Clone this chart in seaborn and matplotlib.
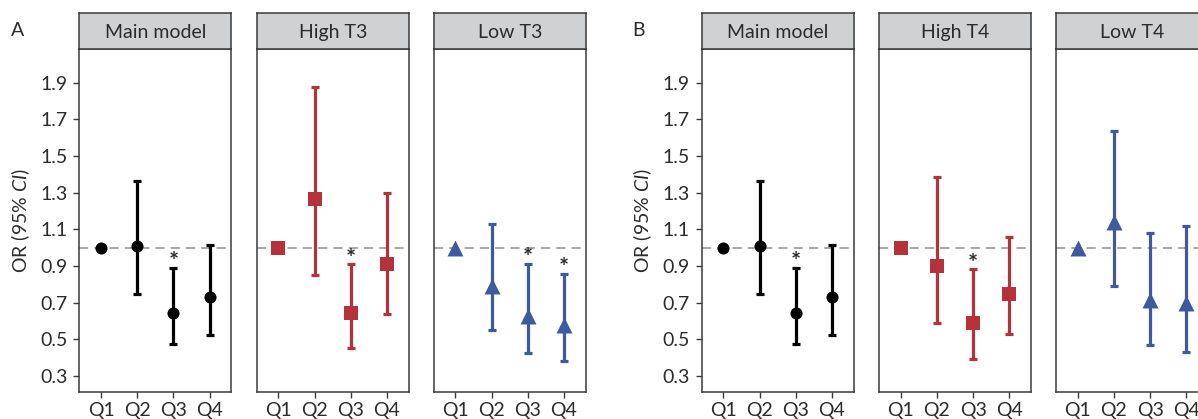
import numpy as np
import pandas as pd
import matplotlib
matplotlib.use("Agg")
import matplotlib.pyplot as plt
import seaborn as sns

# ---------------- data ----------------
quartiles = ["Q1", "Q2", "Q3", "Q4"]

main_or = [1.00, 1.01, 0.645, 0.73]
main_lo = [np.nan, 0.746, 0.473, 0.524]
main_hi = [np.nan, 1.365, 0.891, 1.016]
main_sig = [False, False, True, False]

high_t3_or = [1.00, 1.264, 0.642, 0.909]
high_t3_lo = [np.nan, 0.851, 0.453, 0.637]
high_t3_hi = [np.nan, 1.875, 0.909, 1.300]
high_t3_sig = [False, False, True, False]

low_t3_or = [1.00, 0.793, 0.627, 0.578]
low_t3_lo = [np.nan, 0.549, 0.425, 0.382]
low_t3_hi = [np.nan, 1.128, 0.911, 0.858]
low_t3_sig = [False, False, True, True]

high_t4_or = [1.00, 0.902, 0.587, 0.746]
high_t4_lo = [np.nan, 0.591, 0.393, 0.529]
high_t4_hi = [np.nan, 1.387, 0.882, 1.060]
high_t4_sig = [False, False, True, False]

low_t4_or = [1.00, 1.142, 0.715, 0.700]
low_t4_lo = [np.nan, 0.793, 0.471, 0.431]
low_t4_hi = [np.nan, 1.637, 1.079, 1.118]
low_t4_sig = [False, False, False, False]

y_ticks = [0.3, 0.5, 0.7, 0.9, 1.1, 1.3, 1.5, 1.7, 1.9]

# ---------------- style ----------------
sns.set_theme(style="white")
plt.rcParams["font.family"] = ["Lato", "DejaVu Sans"]
plt.rcParams["mathtext.fontset"] = "custom"
plt.rcParams["mathtext.it"] = "Lato:italic"
plt.rcParams["mathtext.rm"] = "Lato"

TXT = "#2b2b2b"
EDGE = "#3a3a3a"
STRIP = "#d0d1d3"
BLACK = "#000000"
RED = "#b5323a"
BLUE = "#3d5a9f"

W, H = 1198, 419
fig = plt.figure(figsize=(W / 100, H / 100), dpi=100)

ax_bottom_px = 391.7
ax_top_px = 49.0
strip_top_px = 13.3
panel_w = 152.0


def make_df(orv, lo, hi, sig):
    return pd.DataFrame({"quartile": quartiles, "pos": np.arange(len(quartiles)),
                         "OR": orv, "lo": lo, "hi": hi, "sig": sig})


panels = [
    # (left px, title, df, color, marker, size, show y)
    (79.3, "Main model", make_df(main_or, main_lo, main_hi, main_sig), BLACK, "o", 8.7, True),
    (256.7, "High T3", make_df(high_t3_or, high_t3_lo, high_t3_hi, high_t3_sig), RED, "s", 9.5, False),
    (433.7, "Low T3", make_df(low_t3_or, low_t3_lo, low_t3_hi, low_t3_sig), BLUE, "^", 11.5, False),
    (701.7, "Main model", make_df(main_or, main_lo, main_hi, main_sig), BLACK, "o", 8.7, True),
    (879.0, "High T4", make_df(high_t4_or, high_t4_lo, high_t4_hi, high_t4_sig), RED, "s", 9.5, False),
    (1056.0, "Low T4", make_df(low_t4_or, low_t4_lo, low_t4_hi, low_t4_sig), BLUE, "^", 11.5, False),
]

FS = 14

for left, title, df, col, mk, ms, showy in panels:
    ax = fig.add_axes([left / W, (H - ax_bottom_px) / H, panel_w / W,
                       (ax_bottom_px - ax_top_px) / H])
    ax.axhline(1.0, color="#8f8f8f", lw=1.1, dashes=(6, 4), zorder=1)
    ci = df.dropna(subset=["lo", "hi"])
    ax.errorbar(ci["pos"], ci["OR"],
                yerr=[ci["OR"] - ci["lo"], ci["hi"] - ci["OR"]],
                fmt="none", ecolor=col, elinewidth=2.3, capsize=2.6, capthick=2.3, zorder=2)
    sns.scatterplot(data=df, x="pos", y="OR", ax=ax, color=col, marker=mk,
                    s=ms ** 2, linewidth=0, zorder=3, legend=False)
    for _, r in df.iterrows():
        if r["sig"]:
            ax.text(r["pos"], r["hi"] + 0.028, "*", ha="center", va="center",
                    fontsize=FS + 3, fontweight="bold", color=TXT)
    ax.set_xlim(-0.6, 3.6)
    ax.set_ylim(0.214, 2.084)
    ax.set_xticks(df["pos"])
    ax.set_xticklabels(df["quartile"])
    ax.set_yticks(y_ticks)
    ax.set_yticklabels([f"{v:.1f}" for v in y_ticks])
    ax.set_xlabel("")
    ax.set_ylabel("")
    for sp in ax.spines.values():
        sp.set_color(EDGE)
        sp.set_linewidth(1.1)
    ax.tick_params(axis="both", which="both", direction="out", length=4.5,
                   width=1.0, color=EDGE, labelcolor=TXT, labelsize=FS,
                   bottom=True, left=showy, labelleft=showy, pad=4)
    ax.tick_params(axis="x", pad=3)
    if showy:
        ax.set_ylabel(r"OR (95% $\mathit{CI}$)", fontsize=FS, color=TXT, labelpad=6)
    # strip
    sax = fig.add_axes([left / W, (H - ax_top_px) / H, panel_w / W,
                        (ax_top_px - strip_top_px) / H])
    sax.set_facecolor(STRIP)
    sax.set_xticks([])
    sax.set_yticks([])
    for sp in sax.spines.values():
        sp.set_color(EDGE)
        sp.set_linewidth(1.1)
    sax.text(0.5, 0.45, title, ha="center", va="center", fontsize=FS, color=TXT,
             transform=sax.transAxes)

fig.text(18 / W, 1 - 30 / H, "A", ha="center", va="center", fontsize=FS, color=TXT)
fig.text(639 / W, 1 - 30 / H, "B", ha="center", va="center", fontsize=FS, color=TXT)

fig.savefig("out.png", dpi=100)
